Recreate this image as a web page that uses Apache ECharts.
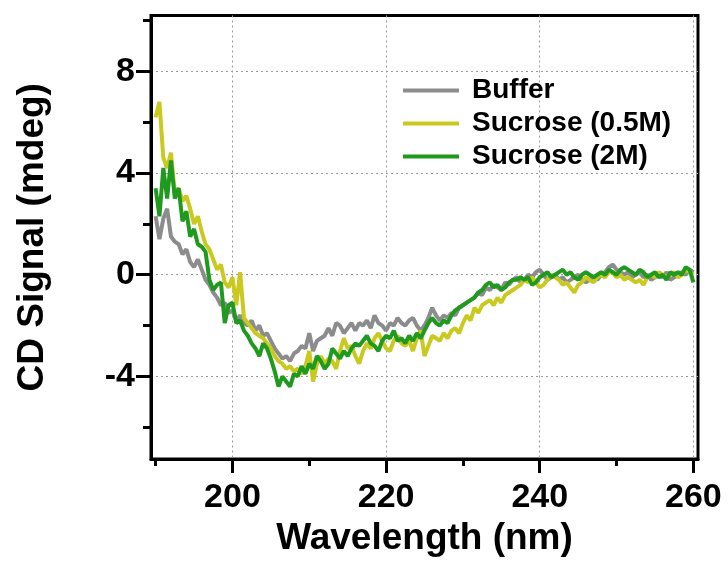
<!DOCTYPE html>
<html><head><meta charset="utf-8">
<script src="https://cdn.jsdelivr.net/npm/echarts@6/dist/echarts.min.js"></script>
<style>html,body{margin:0;padding:0;background:#fff}#c{width:728px;height:568px}</style>
</head><body><div id="c"></div>
<script>
const wavelength = [
190,190.5,191,191.5,192,192.5,193,193.5,194,194.5,
195,195.5,196,196.5,197,197.5,198,198.5,199,199.5,
200,200.5,201,201.5,202,202.5,203,203.5,204,204.5,
205,205.5,206,206.5,207,207.5,208,208.5,209,209.5,
210,210.5,211,211.5,212,212.5,213,213.5,214,214.5,
215,215.5,216,216.5,217,217.5,218,218.5,219,219.5,
220,220.5,221,221.5,222,222.5,223,223.5,224,224.5,
225,225.5,226,226.5,227,227.5,228,228.5,229,229.5,
230,230.5,231,231.5,232,232.5,233,233.5,234,234.5,
235,235.5,236,236.5,237,237.5,238,238.5,239,239.5,
240,240.5,241,241.5,242,242.5,243,243.5,244,244.5,
245,245.5,246,246.5,247,247.5,248,248.5,249,249.5,
250,250.5,251,251.5,252,252.5,253,253.5,254,254.5,
255,255.5,256,256.5,257,257.5,258,258.5,259,259.5,
260];
const buffer = [
2.3,1.4,2.2,2.6,1.5,1.3,1.2,0.8,1.0,0.5,
0.3,0.6,0.2,-0.2,-0.4,-0.7,-0.9,-1.2,-1.1,-1.5,
-1.4,-1.8,-1.6,-1.9,-2.0,-1.8,-2.2,-2.0,-2.4,-2.3,
-2.6,-2.9,-3.1,-3.3,-3.2,-3.4,-3.1,-3.0,-2.8,-2.9,
-2.3,-3.0,-2.6,-2.5,-2.4,-2.1,-2.4,-1.9,-2.0,-2.3,
-2.1,-1.9,-2.2,-1.9,-2.0,-1.8,-2.1,-1.6,-1.9,-2.0,
-2.2,-1.9,-2.0,-1.7,-1.9,-2.0,-1.8,-1.7,-2.0,-2.2,
-2.0,-1.7,-1.3,-1.6,-1.8,-1.6,-1.7,-1.5,-1.6,-1.3,
-1.2,-1.1,-1.0,-0.9,-0.7,-0.8,-0.5,-0.6,-0.4,-0.5,
-0.6,-0.3,-0.4,-0.2,-0.1,-0.3,-0.2,0.0,-0.1,0.1,
0.2,0.0,-0.2,-0.1,0.0,-0.2,-0.1,-0.3,-0.2,-0.1,
0.0,-0.2,-0.3,-0.2,-0.1,-0.2,0.0,0.1,0.3,0.4,
0.2,0.1,0.0,0.1,-0.1,0.0,0.1,-0.1,0.0,-0.2,
-0.1,0.0,-0.1,0.1,-0.2,-0.1,0.0,0.1,0.0,0.2,
0.1];
const sucrose05 = [
6.2,6.8,4.6,4.2,4.8,3.2,3.4,2.9,3.1,2.6,
2.0,2.3,1.7,1.2,1.0,0.6,0.2,0.4,-0.3,-0.5,
-0.1,-1.2,0.1,-1.7,-1.9,-2.1,-2.3,-2.4,-2.5,-2.7,
-2.9,-3.2,-3.4,-3.5,-3.7,-3.6,-3.8,-3.7,-3.9,-3.6,
-3.0,-4.2,-3.5,-3.2,-3.5,-3.3,-3.4,-3.7,-3.0,-2.5,
-2.9,-2.8,-3.2,-3.5,-3.0,-2.7,-2.9,-2.5,-2.3,-2.6,
-2.9,-3.0,-2.6,-2.4,-2.7,-2.8,-2.6,-3.0,-2.5,-2.2,
-3.2,-2.8,-2.4,-2.5,-2.6,-2.3,-2.5,-2.2,-2.1,-2.3,
-1.9,-1.6,-1.8,-1.3,-1.5,-1.2,-1.1,-1.0,-1.2,-0.9,
-1.1,-0.8,-0.7,-0.6,-0.5,-0.4,-0.2,-0.3,-0.1,-0.3,
-0.5,-0.4,-0.2,0.0,-0.1,-0.2,-0.4,-0.3,-0.5,-0.7,
-0.4,-0.3,-0.1,-0.2,-0.3,-0.1,0.0,-0.1,0.1,0.1,
-0.1,0.0,-0.2,-0.1,-0.2,-0.3,-0.2,-0.4,-0.1,0.0,
-0.1,0.1,0.0,-0.1,0.0,0.1,-0.1,0.0,0.2,0.1,
0.0];
const sucrose2 = [
3.4,2.3,4.2,3.0,4.5,3.0,3.4,2.1,2.5,1.5,
1.8,1.2,1.1,0.9,-0.2,-0.6,-0.4,-0.3,-1.9,-1.2,
-1.1,-1.9,-1.8,-2.2,-2.4,-2.7,-2.9,-3.2,-2.7,-2.9,
-3.3,-3.8,-4.4,-4.0,-4.2,-4.4,-3.9,-4.0,-3.6,-3.9,
-3.5,-3.7,-3.2,-3.4,-3.7,-3.5,-2.9,-3.1,-3.3,-3.0,
-3.2,-2.9,-2.7,-2.8,-2.6,-2.4,-2.7,-2.8,-3.0,-2.6,
-2.4,-2.5,-2.2,-2.6,-2.5,-2.7,-2.4,-2.6,-2.3,-2.5,
-2.2,-1.9,-1.7,-1.9,-2.0,-1.8,-1.9,-1.6,-1.4,-1.3,
-1.2,-1.1,-1.0,-0.9,-0.7,-0.6,-0.4,-0.3,-0.5,-0.4,
-0.6,-0.5,-0.3,-0.2,-0.2,-0.1,-0.2,-0.1,-0.4,-0.3,
-0.1,0.0,0.1,-0.1,0.0,0.1,0.2,0.0,0.1,-0.1,
-0.2,0.0,0.1,0.0,-0.1,0.0,0.1,0.0,0.2,0.1,
0.0,0.2,0.3,0.2,0.1,0.0,0.2,0.1,-0.1,0.0,
0.1,-0.1,0.0,-0.2,0.1,0.0,0.1,0.0,0.3,0.2,
-0.3];
const seriesNames = ['Buffer', 'Sucrose (0.5M)', 'Sucrose (2M)'];
const seriesColors = ['#8c8c8c', '#c9c91f', '#1f9a1f'];
const xMajorTicks = [200, 220, 240, 260];
const xMinorTicks = [190, 210, 230, 250];
const yMajorTicks = [-4, 0, 4, 8];
const yMinorTicks = [-6, -2, 2, 6, 10];
const xTitle = 'Wavelength (nm)';
const yTitle = 'CD Signal (mdeg)';

const FONT = '"Liberation Sans", Arial, sans-serif';
const pairs = ys => wavelength.map((w, i) => [w, ys[i]]);
const allSeries = [buffer, sucrose05, sucrose2];

const chart = echarts.init(document.getElementById('c'), null, {renderer: 'canvas'});
const axisLineStyle = {color: '#000', width: 3};
const gridLineStyle = {color: '#9a9a9a', width: 1, type: [2, 3]};
const labelStyle = {color: '#000', fontFamily: FONT, fontWeight: 'bold', fontSize: 34};
chart.setOption({
  animation: false,
  backgroundColor: '#fff',
  grid: {left: 151, right: 30, top: 15.5, bottom: 109, show: true, borderColor: '#000', borderWidth: 3, backgroundColor: 'transparent'},
  legend: {
    data: seriesNames, orient: 'vertical', left: 403, top: 76, padding: 0,
    icon: 'rect', itemWidth: 56, itemHeight: 4, itemGap: 4,
    textStyle: {color: '#000', fontFamily: FONT, fontWeight: 'bold', fontSize: 28, lineHeight: 29, padding: [0, 0, 0, 8]}
  },
  xAxis: [{
    type: 'value', min: 189.4, max: 260.6, position: 'bottom',
    axisLine: {show: true, onZero: false, lineStyle: axisLineStyle},
    axisTick: {show: true, customValues: xMajorTicks, length: 14, lineStyle: axisLineStyle},
    axisLabel: Object.assign({customValues: xMajorTicks, margin: 22}, labelStyle),
    splitLine: {show: true, lineStyle: gridLineStyle},
    name: xTitle, nameLocation: 'middle', nameGap: 59,
    nameTextStyle: {color: '#000', fontFamily: FONT, fontWeight: 'bold', fontSize: 37}
  }, {
    type: 'value', min: 189.4, max: 260.6, position: 'bottom',
    axisLine: {show: false, onZero: false},
    axisTick: {show: true, customValues: xMinorTicks, length: 7, lineStyle: axisLineStyle},
    axisLabel: {show: false}, splitLine: {show: false}
  }],
  yAxis: [{
    type: 'value', min: -7.25, max: 10.2, position: 'left',
    axisLine: {show: true, onZero: false, lineStyle: axisLineStyle},
    axisTick: {show: true, customValues: yMajorTicks, length: 15, lineStyle: axisLineStyle},
    axisLabel: Object.assign({customValues: yMajorTicks, margin: 16}, labelStyle),
    splitLine: {show: true, lineStyle: gridLineStyle},
    name: yTitle, nameLocation: 'middle', nameGap: 100, nameRotate: 90,
    nameTextStyle: {color: '#000', fontFamily: FONT, fontWeight: 'bold', fontSize: 37}
  }, {
    type: 'value', min: -7.25, max: 10.2, position: 'left',
    axisLine: {show: false, onZero: false},
    axisTick: {show: true, customValues: yMinorTicks, length: 8, lineStyle: axisLineStyle},
    axisLabel: {show: false}, splitLine: {show: false}
  }],
  series: allSeries.map((ys, k) => ({
    name: seriesNames[k], type: 'line', xAxisIndex: 0, yAxisIndex: 0,
    data: pairs(ys), showSymbol: false, symbol: 'none',
    lineStyle: {color: seriesColors[k], width: 4},
    itemStyle: {color: seriesColors[k]},
    emphasis: {disabled: true}
  }))
});
</script>
</body></html>
